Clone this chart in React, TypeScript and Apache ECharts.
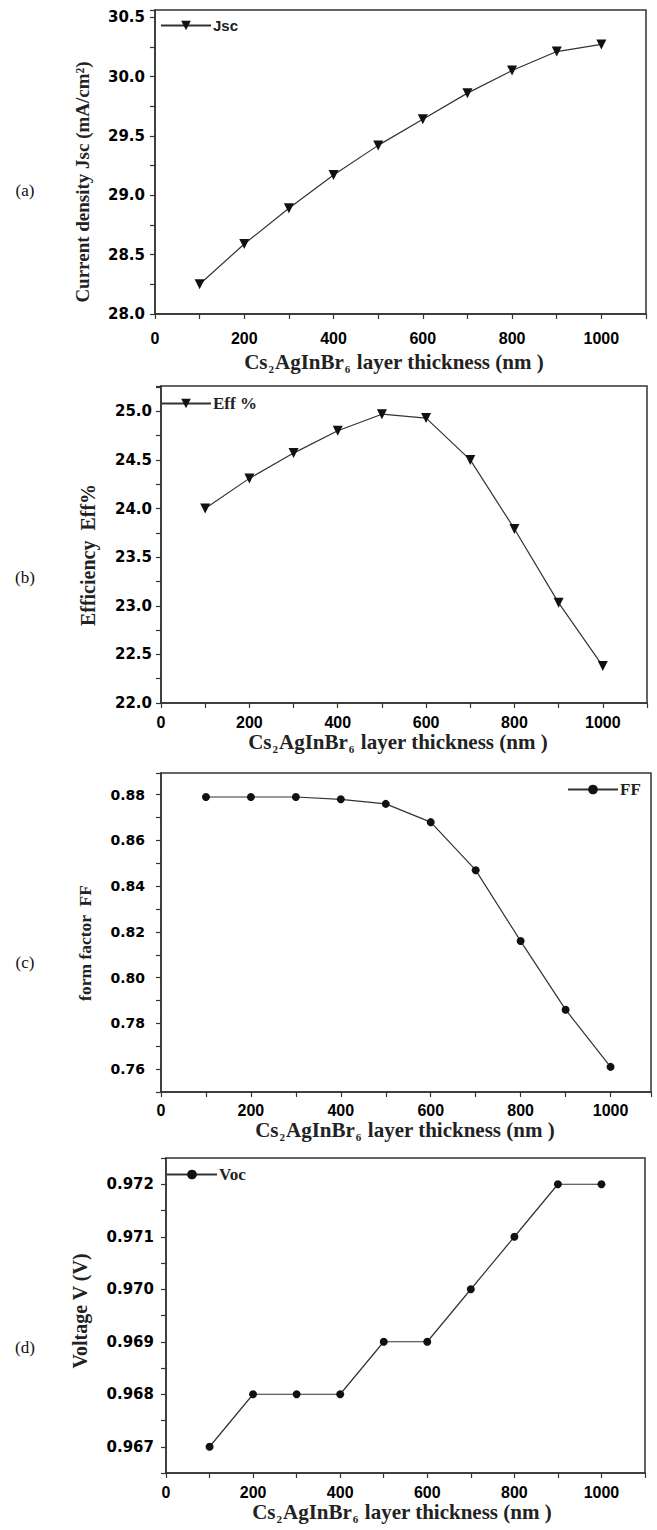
import React, { useEffect, useRef } from "react";
import * as echarts from "echarts";

const thickness = [100, 200, 300, 400, 500, 600, 700, 800, 900, 1000];
const jsc = [28.25, 28.59, 28.89, 29.17, 29.42, 29.64, 29.86, 30.05, 30.21, 30.27];
const eff = [24.0, 24.31, 24.57, 24.8, 24.97, 24.93, 24.5, 23.79, 23.03, 22.38];
const ff = [0.879, 0.879, 0.879, 0.878, 0.876, 0.868, 0.847, 0.816, 0.786, 0.761];
const voc = [0.967, 0.968, 0.968, 0.968, 0.969, 0.969, 0.97, 0.971, 0.972, 0.972];

const xLabels = [0, 200, 400, 600, 800, 1000];
const jscLabels = [28.0, 28.5, 29.0, 29.5, 30.0, 30.5];
const effLabels = [22.0, 22.5, 23.0, 23.5, 24.0, 24.5, 25.0];
const ffLabels = [0.76, 0.78, 0.8, 0.82, 0.84, 0.86, 0.88];
const vocLabels = [0.967, 0.968, 0.969, 0.97, 0.971, 0.972];

const panelNames = ["(a)", "(b)", "(c)", "(d)"];
const yTitles = ["Current density Jsc (mA/cm\u00B2)", "Efficiency  Eff%", "form factor  FF", "Voltage V (V)"];
const seriesNames = ["Jsc", "Eff %", "FF", "Voc"];

const SERIF = '"Liberation Serif", "Times New Roman", serif';
const SANS = '"Liberation Sans", Arial, sans-serif';
const DSANS = '"DejaVu Sans", sans-serif';
const AXIS = "#333";

function labelFmt(list: number[], dec: number) {
  return (v: number) => {
    const hit = list.find((t) => Math.abs(t - v) < 1e-7);
    return hit !== undefined ? hit.toFixed(dec) : "";
  };
}

const grids = [
  { left: 155, top: 10, width: 491, height: 304 },
  { left: 161, top: 386, width: 486, height: 317 },
  { left: 161, top: 773, width: 490, height: 319 },
  { left: 166, top: 1158, width: 479, height: 315 },
];

const xMax = [1100, 1100, 1090, 1100];
const xLabelMargin = [16, 11, 10, 11];
const yCfg = [
  { min: 28, max: 30.56, interval: 0.25, labels: jscLabels, dec: 1, margin: 10, size: 15 },
  { min: 22, max: 25.26, interval: 0.25, labels: effLabels, dec: 1, margin: 9, size: 15 },
  { min: 0.75, max: 0.8895, interval: 0.01, labels: ffLabels, dec: 2, margin: 16, size: 14 },
  { min: 0.9665, max: 0.9725, interval: 0.0005, labels: vocLabels, dec: 3, margin: 12, size: 15 },
];
const dataSets = [jsc, eff, ff, voc];
const symbols = ["triangle", "triangle", "circle", "circle"];

const panelLabelPos = [
  [25, 190],
  [25, 577],
  [25, 962],
  [25, 1347],
];
const yTitlePos = [
  [82, 182],
  [88, 555],
  [85, 943],
  [80, 1311],
];
const yTitleSize = [19, 20, 17.5, 20];
const xTitlePos = [
  [394, 362],
  [398, 742],
  [405, 1130],
  [402, 1512],
];
const legendPos = [
  { left: 160, top: 18 },
  { left: 160, top: 395 },
  { left: 567, top: 781 },
  { left: 166, top: 1166 },
];

export default function App() {
  const ref = useRef<HTMLDivElement>(null);
  useEffect(() => {
    if (!ref.current) return;
    const chart = echarts.init(ref.current, null, { renderer: "svg" });

    const xAxis = grids.map((_, i) => ({
      type: "value",
      gridIndex: i,
      min: 0,
      max: xMax[i],
      interval: 100,
      axisLine: { show: true, lineStyle: { color: AXIS, width: 1.5 } },
      axisTick: { show: true, inside: false, length: 5, lineStyle: { color: AXIS, width: 1.2 } },
      splitLine: { show: false },
      axisLabel: {
        margin: xLabelMargin[i],
        color: "#000",
        fontFamily: SANS,
        fontWeight: "bold",
        fontSize: 16,
        formatter: (v: number) => (xLabels.includes(Math.round(v)) && Math.abs(v - Math.round(v)) < 1e-6 ? String(Math.round(v)) : ""),
      },
    }));

    const yAxis = yCfg.map((c, i) => ({
      type: "value",
      gridIndex: i,
      min: c.min,
      max: c.max,
      interval: c.interval,
      axisLine: { show: true, lineStyle: { color: AXIS, width: 1.5 } },
      axisTick: { show: true, inside: false, length: 5, lineStyle: { color: AXIS, width: 1.2 } },
      splitLine: { show: false },
      axisLabel: {
        margin: c.margin,
        color: "#000",
        fontFamily: DSANS,
        fontWeight: "bold",
        fontSize: c.size,
        formatter: labelFmt(c.labels, c.dec),
      },
    }));

    const series = dataSets.map((d, i) => ({
      type: "line",
      name: seriesNames[i],
      xAxisIndex: i,
      yAxisIndex: i,
      data: thickness.map((t, k) => [t, d[k]]),
      symbol: symbols[i],
      symbolRotate: symbols[i] === "triangle" ? 180 : 0,
      symbolSize: symbols[i] === "triangle" ? 10 : 8,
      showAllSymbol: true,
      lineStyle: { color: "#333", width: 1.2 },
      itemStyle: { color: "#111" },
      emphasis: { disabled: true },
    }));

    const legend = seriesNames.map((n, i) => ({
      data: [n],
      left: legendPos[i].left,
      top: legendPos[i].top,
      padding: 0,
      itemWidth: 50,
      itemHeight: 12,
      selectedMode: false,
      textStyle: {
        color: "#222",
        fontFamily: i === 0 ? SANS : SERIF,
        fontWeight: "bold",
        fontSize: i === 0 ? 15 : 17,
        padding: [0, 0, 0, -3],
      },
    }));

    const graphic: any[] = [];
    panelNames.forEach((p, i) => {
      graphic.push({
        type: "text",
        x: panelLabelPos[i][0],
        y: panelLabelPos[i][1],
        style: { text: p, font: `17px ${SERIF}`, fill: "#111", align: "center", verticalAlign: "middle" },
      });
      graphic.push({
        type: "text",
        x: yTitlePos[i][0],
        y: yTitlePos[i][1],
        rotation: Math.PI / 2,
        style: { text: yTitles[i], font: `bold ${yTitleSize[i]}px ${SERIF}`, fill: "#222", align: "center", verticalAlign: "middle" },
      });
      graphic.push({
        type: "text",
        x: xTitlePos[i][0],
        y: xTitlePos[i][1],
        style: {
          text: "{b|Cs}{s|2}{b|AgInBr}{s|6}{b| layer thickness (nm )}",
          align: "center",
          verticalAlign: "middle",
          rich: {
            b: { fontFamily: SERIF, fontWeight: "bold", fontSize: 21, fill: "#222" },
            s: { fontFamily: SERIF, fontWeight: "bold", fontSize: 11, fill: "#222", padding: [14, 1, 0, 1] },
          },
        },
      });
    });

    chart.setOption({
      animation: false,
      backgroundColor: "#fff",
      grid: grids.map((g) => ({ ...g, show: true, borderColor: AXIS, borderWidth: 1.5, backgroundColor: "transparent" })),
      xAxis,
      yAxis,
      legend,
      series,
      graphic,
    });
    return () => chart.dispose();
  }, []);
  return <div ref={ref} style={{ position: "absolute", left: 0, top: 0, width: 657, height: 1530, background: "#fff" }} />;
}
